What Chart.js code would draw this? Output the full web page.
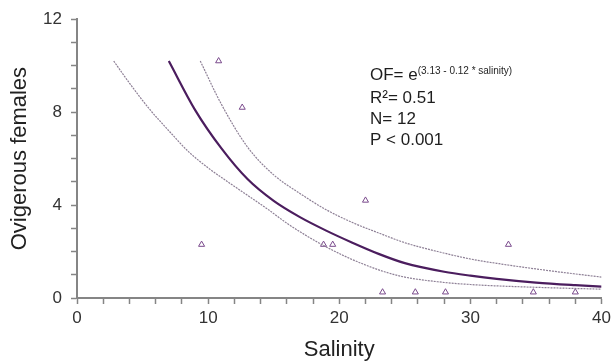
<!DOCTYPE html>
<html>
<head>
<meta charset="utf-8">
<script src="https://cdn.jsdelivr.net/npm/chart.js@4"></script>
<style>
  html, body { margin: 0; padding: 0; background: #fff; }
  #wrap { width: 615px; height: 364px; }
</style>
</head>
<body>
<div id="wrap"><canvas id="chart" width="615" height="364"></canvas></div>
<script>
// observed samples (salinity, ovigerous females)
const salinity = [9.5, 10.8, 12.6, 18.8, 19.5, 22.0, 23.3, 25.8, 28.1, 32.9, 34.8, 38.0];
const females  = [2.3, 10.2, 8.2, 2.3, 2.3, 4.2, 0.25, 0.25, 0.25, 2.3, 0.25, 0.25];

// fitted curve
const fitX = [7, 9, 11, 13, 15, 17, 19, 21, 23, 25, 28, 30, 32, 35, 38, 40];
const fitY = [10.2, 8.1, 6.45, 5.12, 4.18, 3.48, 2.9, 2.38, 1.9, 1.5, 1.13, 0.96, 0.82, 0.66, 0.55, 0.49];

// upper and lower bands
const upX = [9.4, 11, 13, 15, 17, 19, 21, 23, 25, 27.5, 30, 32.5, 35, 37.5, 40];
const upY = [10.2, 8.35, 6.5, 5.3, 4.5, 3.8, 3.25, 2.8, 2.38, 2.0, 1.68, 1.45, 1.25, 1.07, 0.9];
const loX = [2.8, 4, 5.5, 7, 8.5, 10, 11.5, 13, 14.5, 16, 17.5, 19, 20.5, 22, 23.5, 25, 27.5, 30, 35, 40];
const loY = [10.2, 9.25, 8.15, 7.2, 6.3, 5.6, 5.0, 4.42, 3.84, 3.22, 2.68, 2.2, 1.78, 1.42, 1.12, 0.9, 0.7, 0.58, 0.46, 0.38];

const xTicks = [0, 10, 20, 30, 40];
const yTicks = [0, 4, 8, 12];

const pairs = (xs, ys) => xs.map((x, i) => ({ x: x, y: ys[i] }));

const FONT = "Arial, 'Liberation Sans', sans-serif";
const AXIS = '#858585';

// regression text box
const statsText = {
  id: 'statsText',
  afterDraw(chart) {
    const ctx = chart.ctx;
    ctx.save();
    ctx.fillStyle = '#1e1e1e';
    ctx.textBaseline = 'alphabetic';
    ctx.textAlign = 'left';
    ctx.font = '17px ' + FONT;
    const x0 = 370;
    ctx.fillText('OF= e', x0, 80);
    const w = ctx.measureText('OF= e').width;
    ctx.font = '10px ' + FONT;
    ctx.fillText('(3.13 - 0.12 * salinity)', x0 + w, 74);
    ctx.font = '17px ' + FONT;
    ctx.fillText('R\u00b2= 0.51', x0, 103);
    ctx.fillText('N= 12', x0, 124);
    ctx.fillText('P < 0.001', x0, 145);
    ctx.restore();
  }
};

const band = (xs, ys) => ({
  type: 'line',
  data: pairs(xs, ys),
  borderColor: '#8e8096',
  borderWidth: 1.2,
  borderDash: [2, 1],
  pointRadius: 0,
  cubicInterpolationMode: 'monotone',
  fill: false
});

new Chart(document.getElementById('chart'), {
  type: 'scatter',
  data: {
    datasets: [
      band(loX, loY),
      band(upX, upY),
      {
        type: 'line',
        data: pairs(fitX, fitY),
        borderColor: '#4b1d5e',
        borderWidth: 2.2,
        pointRadius: 0,
        cubicInterpolationMode: 'monotone',
        fill: false
      },
      {
        data: pairs(salinity, females),
        pointStyle: 'triangle',
        pointRadius: 3.5,
        borderWidth: 1,
        borderColor: '#7a4a8c',
        backgroundColor: '#ffffff'
      }
    ]
  },
  options: {
    responsive: false,
    animation: false,
    layout: { padding: { left: 7, right: 11, top: 17, bottom: 0 } },
    plugins: {
      legend: { display: false },
      tooltip: { enabled: false }
    },
    scales: {
      x: {
        type: 'linear',
        min: 0,
        max: 40,
        afterFit: (s) => { s.height = 66; },
        border: { display: true, color: AXIS, width: 2 },
        grid: { drawOnChartArea: false, drawTicks: true, tickLength: 6, tickColor: AXIS, tickWidth: 1.5 },
        ticks: {
          stepSize: 2,
          autoSkip: false,
          maxRotation: 0,
          padding: 4,
          color: '#333',
          font: { family: FONT, size: 17 },
          callback: (v) => xTicks.includes(v) ? v : ''
        },
        title: {
          display: true,
          text: 'Salinity',
          color: '#222',
          font: { family: FONT, size: 22 },
          padding: { top: 0, bottom: 1 }
        }
      },
      y: {
        type: 'linear',
        min: 0,
        max: 12,
        afterFit: (s) => { s.width = 70; },
        border: { display: true, color: AXIS, width: 2 },
        grid: { drawOnChartArea: false, drawTicks: true, tickLength: 6, tickColor: AXIS, tickWidth: 1.5 },
        ticks: {
          stepSize: 1,
          autoSkip: false,
          padding: 9,
          color: '#333',
          font: { family: FONT, size: 17 },
          callback: (v) => yTicks.includes(v) ? v : ''
        },
        title: {
          display: true,
          text: 'Ovigerous females',
          color: '#222',
          font: { family: FONT, size: 22 },
          padding: { top: 0, bottom: 0 }
        }
      }
    }
  },
  plugins: [statsText]
});
</script>
</body>
</html>
